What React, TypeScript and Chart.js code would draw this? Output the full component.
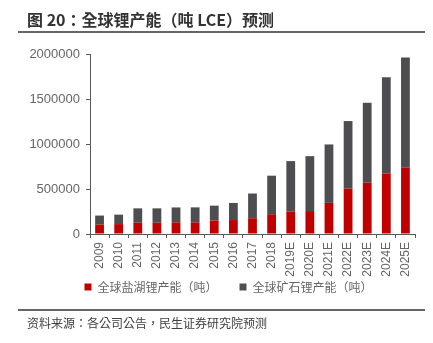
import React, { useEffect, useRef } from "react";
import { Chart, registerables } from "chart.js";

Chart.register(...registerables);

const categories = [
  "2009", "2010", "2011", "2012", "2013", "2014", "2015", "2016", "2017",
  "2018", "2019E", "2020E", "2021E", "2022E", "2023E", "2024E", "2025E",
];
const saltLake = [
  105000, 110000, 125000, 125000, 130000, 130000, 150000, 155000, 175000,
  220000, 250000, 255000, 346000, 504000, 570000, 674000, 736000,
];
const ore = [
  100000, 105000, 160000, 160000, 165000, 166000, 165000, 190000, 275000,
  428000, 560000, 610000, 649000, 751000, 888000, 1067000, 1226000,
];
const seriesNames = ["全球盐湖锂产能（吨）", "全球矿石锂产能（吨）"];
const yMax = 2000000;
const yStep = 500000;
const titleText = "图 20：全球锂产能（吨 LCE）预测";
const sourceText = "资料来源：各公司公告，民生证券研究院预测";

const RED = "#C00000";
const GRAY = "#4E4E50";
const TICK = "#666666";
const AXIS = "#595959";
const CJK = '"Noto Sans CJK SC", "Noto Sans", sans-serif';
const CJK_TC = '"Noto Sans CJK TC", "Noto Sans CJK SC", sans-serif';
const NUM = '"Liberation Sans", Arial, sans-serif';

const legendShift = {
  id: "legendShift",
  afterLayout(chart: any) {
    const lg = chart.legend;
    if (!lg) return;
    lg.left += 21;
    lg.right += 21;
    lg.top -= 25;
    lg.bottom -= 25;
  },
};

export default function App() {
  const ref = useRef<HTMLCanvasElement>(null);

  useEffect(() => {
    if (!ref.current) return;
    const chart = new Chart(ref.current, {
      type: "bar",
      data: {
        labels: categories,
        datasets: [
          {
            label: seriesNames[0],
            data: saltLake,
            backgroundColor: RED,
            borderWidth: 0,
            barPercentage: 0.46,
            categoryPercentage: 1,
          },
          {
            label: seriesNames[1],
            data: ore,
            backgroundColor: GRAY,
            borderWidth: 0,
            barPercentage: 0.46,
            categoryPercentage: 1,
          },
        ],
      },
      plugins: [legendShift],
      options: {
        animation: false,
        responsive: false,
        maintainAspectRatio: false,
        layout: { padding: { left: 0, right: 18, top: 54, bottom: 15 } },
        plugins: {
          title: { display: false },
          tooltip: { enabled: false },
          legend: {
            position: "bottom",
            align: "center",
            labels: {
              boxWidth: 7,
              boxHeight: 7,
              padding: 22,
              color: TICK,
              font: { family: CJK, size: 12 },
            },
          },
        },
        scales: {
          x: {
            stacked: true,
            afterFit: (s: any) => {
              s.height = 50;
            },
            border: { display: true, color: AXIS, width: 1 },
            grid: {
              display: true,
              drawOnChartArea: false,
              drawTicks: true,
              tickLength: 4,
              offset: true,
              color: AXIS,
            },
            ticks: {
              minRotation: 90,
              maxRotation: 90,
              autoSkip: false,
              padding: 4,
              color: TICK,
              font: { family: NUM, size: 12 },
            },
          },
          y: {
            stacked: true,
            min: 0,
            max: yMax,
            afterFit: (s: any) => {
              s.width = 90;
            },
            border: { display: true, color: AXIS, width: 1 },
            grid: {
              display: true,
              drawOnChartArea: false,
              drawTicks: true,
              tickLength: 4,
              color: AXIS,
            },
            ticks: {
              stepSize: yStep,
              padding: 6,
              color: TICK,
              font: { family: NUM, size: 13 },
              callback: (v: any) => String(v),
            },
          },
        },
      },
    });
    return () => chart.destroy();
  }, []);

  return (
    <div
      style={{
        position: "absolute",
        left: 0,
        top: 0,
        width: 433,
        height: 343,
        background: "#fff",
        overflow: "hidden",
      }}
    >
      <canvas
        ref={ref}
        width={433}
        height={343}
        style={{ position: "absolute", left: 0, top: 0, width: 433, height: 343 }}
      />
      <div
        style={{
          position: "absolute",
          left: 27,
          top: 8,
          fontFamily: CJK_TC,
          fontWeight: 700,
          fontSize: 16,
          lineHeight: "22px",
          color: "#333",
          whiteSpace: "nowrap",
        }}
      >
        {titleText}
      </div>
      <div
        style={{
          position: "absolute",
          left: 18,
          top: 31,
          width: 407,
          height: 2,
          background: "#666",
        }}
      />
      <div
        style={{
          position: "absolute",
          left: 18,
          top: 309,
          width: 407,
          height: 2,
          background: "#666",
        }}
      />
      <div
        style={{
          position: "absolute",
          left: 27,
          top: 314,
          fontFamily: CJK_TC,
          fontSize: 12,
          lineHeight: "17px",
          color: "#404040",
          whiteSpace: "nowrap",
        }}
      >
        {sourceText}
      </div>
    </div>
  );
}
